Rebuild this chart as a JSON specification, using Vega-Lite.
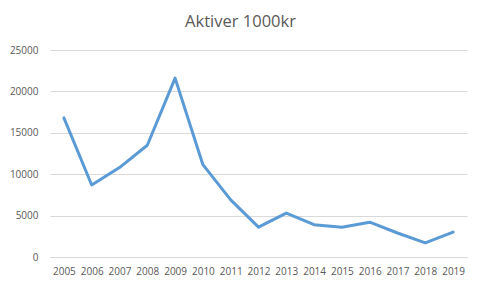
{
  "$schema": "https://vega.github.io/schema/vega-lite/v6.json",
  "width": 417,
  "height": 207,
  "autosize": "none",
  "padding": {"left": 50, "top": 50, "right": 14, "bottom": 32},
  "background": "white",
  "title": {
    "text": "Aktiver 1000kr",
    "font": "Open Sans",
    "fontSize": 16.5,
    "fontWeight": "normal",
    "color": "#595959",
    "anchor": "middle",
    "frame": "group",
    "dx": -18,
    "baseline": "alphabetic",
    "offset": 2
  },
  "data": {
    "values": [
      {"year": "2005", "value": 16800},
      {"year": "2006", "value": 8700},
      {"year": "2007", "value": 10800},
      {"year": "2008", "value": 13500},
      {"year": "2009", "value": 21600},
      {"year": "2010", "value": 11150},
      {"year": "2011", "value": 6900},
      {"year": "2012", "value": 3600},
      {"year": "2013", "value": 5300},
      {"year": "2014", "value": 3900},
      {"year": "2015", "value": 3600},
      {"year": "2016", "value": 4200},
      {"year": "2017", "value": 2900},
      {"year": "2018", "value": 1700},
      {"year": "2019", "value": 3000}
    ]
  },
  "mark": {"type": "line", "color": "#5B9BD5", "strokeWidth": 3, "strokeJoin": "round", "strokeCap": "round"},
  "encoding": {
    "x": {
      "field": "year",
      "type": "ordinal",
      "scale": {"type": "point", "padding": 0.5},
      "axis": {
        "title": null,
        "labelAngle": 0,
        "ticks": false,
        "domain": true,
        "domainColor": "#D9D9D9",
        "labelPadding": 9,
        "labelFont": "Open Sans",
        "labelFontSize": 10,
        "labelColor": "#595959"
      }
    },
    "y": {
      "field": "value",
      "type": "quantitative",
      "scale": {"domain": [0, 25000], "nice": false},
      "axis": {
        "title": null,
        "values": [0, 5000, 10000, 15000, 20000, 25000],
        "format": "d",
        "ticks": false,
        "domain": false,
        "grid": true,
        "gridColor": "#D9D9D9",
        "labelPadding": 12,
        "labelFont": "Open Sans",
        "labelFontSize": 10,
        "labelColor": "#595959"
      }
    }
  },
  "config": {
    "view": {"stroke": null}
  }
}
